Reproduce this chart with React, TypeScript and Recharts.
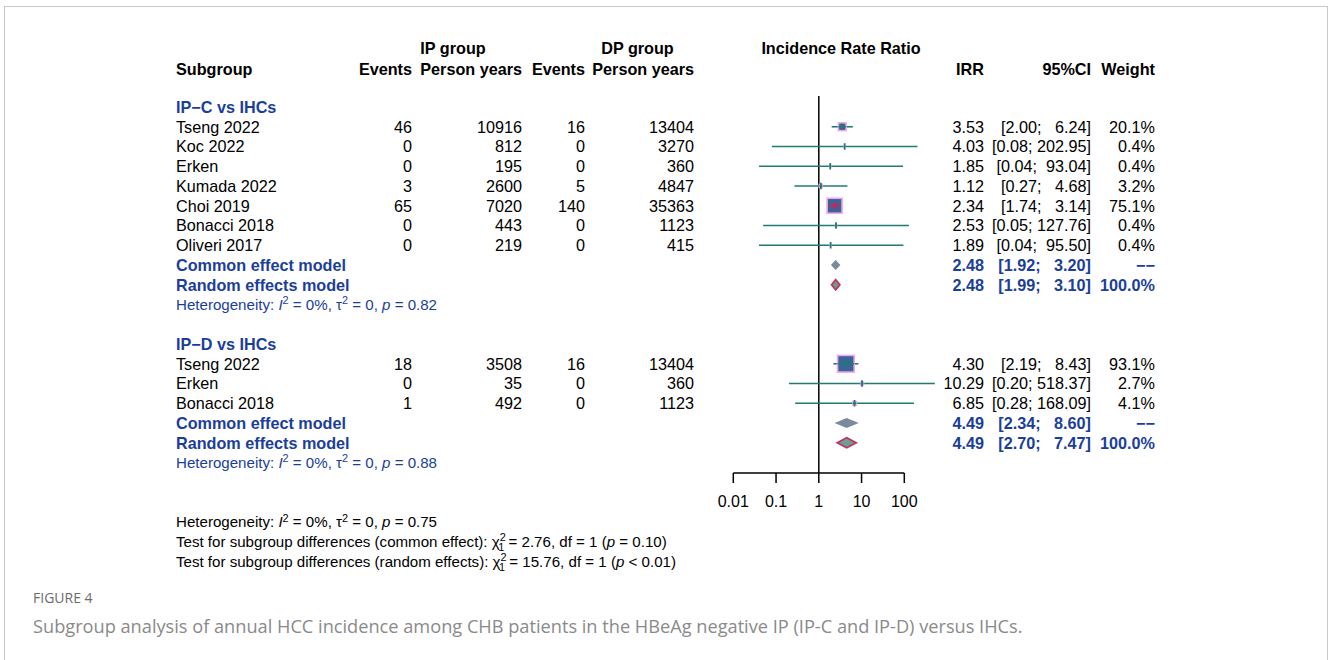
import React from 'react';
import {
  ScatterChart,
  Scatter,
  XAxis,
  YAxis,
  ReferenceLine,
  ReferenceArea
} from 'recharts';

interface Study {
  name: string;
  ipEvents: number;
  ipYears: number;
  dpEvents: number;
  dpYears: number;
  irr: number;
  lower: number;
  upper: number;
  weight: number;
}

interface Pooled {
  name: string;
  irr: number;
  lower: number;
  upper: number;
  weight: number | null;
  random: boolean;
}

// ---- data ----
const subgroupTitles = ['IP\u2212C vs IHCs', 'IP\u2212D vs IHCs'];

const ipcStudies: Study[] = [
  { name: 'Tseng 2022', ipEvents: 46, ipYears: 10916, dpEvents: 16, dpYears: 13404, irr: 3.53, lower: 2.0, upper: 6.24, weight: 20.1 },
  { name: 'Koc 2022', ipEvents: 0, ipYears: 812, dpEvents: 0, dpYears: 3270, irr: 4.03, lower: 0.08, upper: 202.95, weight: 0.4 },
  { name: 'Erken', ipEvents: 0, ipYears: 195, dpEvents: 0, dpYears: 360, irr: 1.85, lower: 0.04, upper: 93.04, weight: 0.4 },
  { name: 'Kumada 2022', ipEvents: 3, ipYears: 2600, dpEvents: 5, dpYears: 4847, irr: 1.12, lower: 0.27, upper: 4.68, weight: 3.2 },
  { name: 'Choi 2019', ipEvents: 65, ipYears: 7020, dpEvents: 140, dpYears: 35363, irr: 2.34, lower: 1.74, upper: 3.14, weight: 75.1 },
  { name: 'Bonacci 2018', ipEvents: 0, ipYears: 443, dpEvents: 0, dpYears: 1123, irr: 2.53, lower: 0.05, upper: 127.76, weight: 0.4 },
  { name: 'Oliveri 2017', ipEvents: 0, ipYears: 219, dpEvents: 0, dpYears: 415, irr: 1.89, lower: 0.04, upper: 95.5, weight: 0.4 }
];

const ipcPooled: Pooled[] = [
  { name: 'Common effect model', irr: 2.48, lower: 1.92, upper: 3.2, weight: null, random: false },
  { name: 'Random effects model', irr: 2.48, lower: 1.99, upper: 3.1, weight: 100.0, random: true }
];

const ipdStudies: Study[] = [
  { name: 'Tseng 2022', ipEvents: 18, ipYears: 3508, dpEvents: 16, dpYears: 13404, irr: 4.3, lower: 2.19, upper: 8.43, weight: 93.1 },
  { name: 'Erken', ipEvents: 0, ipYears: 35, dpEvents: 0, dpYears: 360, irr: 10.29, lower: 0.2, upper: 518.37, weight: 2.7 },
  { name: 'Bonacci 2018', ipEvents: 1, ipYears: 492, dpEvents: 0, dpYears: 1123, irr: 6.85, lower: 0.28, upper: 168.09, weight: 4.1 }
];

const ipdPooled: Pooled[] = [
  { name: 'Common effect model', irr: 4.49, lower: 2.34, upper: 8.6, weight: null, random: false },
  { name: 'Random effects model', irr: 4.49, lower: 2.7, upper: 7.47, weight: 100.0, random: true }
];

const heterogeneityP = ['0.82', '0.88'];
const overallHeterogeneityP = '0.75';
const subgroupTests = [
  { label: 'common effect', chi2: '2.76', df: 1, p: '= 0.10' },
  { label: 'random effects', chi2: '15.76', df: 1, p: '< 0.01' }
];

const axisTicks = [0.01, 0.1, 1, 10, 100];

// ---- layout ----
const W = 1328;
const H = 660;
const CHART_H = 530;
const ROW_Y0 = 107;
const ROW_H = 19.75;
const PLOT_LEFT = 733.3;
const PLOT_RIGHT = 904.3;
const PLOT_TOP = 96;
const PLOT_BOTTOM = 473;
const XAXIS_H = 40;
const PX_PER_DECADE = (PLOT_RIGHT - PLOT_LEFT) / 4;
const BOX_SCALE = 1.73;

const FONT = "'Liberation Sans', Arial, Helvetica, sans-serif";
const FS = 16.2;
const FS_SMALL = 15.1;
const BLUE = '#1b3e9b';
const TEAL = '#217a74';
const BOX_FILL = '#3a6596';
const BOX_EDGE = '#f3a6f3';
const INSIDE_RED = '#e8174a';

const rowY = (r: number) => ROW_Y0 + r * ROW_H;

// row layout: group title, studies, two pooled rows, heterogeneity, blank
const groupStart = [0, 12];
const groups = [
  { title: subgroupTitles[0], studies: ipcStudies, pooled: ipcPooled, p: heterogeneityP[0] },
  { title: subgroupTitles[1], studies: ipdStudies, pooled: ipdPooled, p: heterogeneityP[1] }
];

const studyPoints = groups.flatMap((g, gi) =>
  g.studies.map((s, i) => {
    const leftPx = Math.log10(s.irr / s.lower) * PX_PER_DECADE;
    const rightPx = Math.log10(s.upper / s.irr) * PX_PER_DECADE;
    const side = BOX_SCALE * Math.sqrt(s.weight);
    return {
      ...s,
      x: s.irr,
      y: groupStart[gi] + 1 + i,
      side,
      leftPx,
      rightPx,
      inside: leftPx + rightPx < side
    };
  })
);

const pooledRows = groups.flatMap((g, gi) =>
  g.pooled.map((p, i) => ({ ...p, row: groupStart[gi] + 1 + g.studies.length + i }))
);

const fmt2 = (v: number) => v.toFixed(2);
// meta-style CI text: "[lo; " + upper padded to 6 chars + "]"
const ciText = (lo: number, hi: number) => `[${fmt2(lo)}; ${fmt2(hi).padStart(6, ' ')}]`;

const StudyBox = (props: any) => {
  const { cx, cy, payload } = props;
  const s = payload.side;
  const col = payload.inside ? INSIDE_RED : TEAL;
  // part of the CI line that lies over the square
  const l = Math.min(s / 2, payload.leftPx);
  const r = Math.min(s / 2, payload.rightPx);
  return (
    <g>
      <rect
        x={cx - s / 2}
        y={cy - s / 2}
        width={s}
        height={s}
        fill={BOX_FILL}
        stroke={BOX_EDGE}
        strokeWidth={1.6}
      />
      <line x1={cx - l} x2={cx + r} y1={cy} y2={cy} stroke={col} strokeWidth={1.6} />
      <line x1={cx} x2={cx} y1={cy - 3.3} y2={cy + 3.3} stroke={col} strokeWidth={1.8} />
    </g>
  );
};

const Diamond = (random: boolean) => (props: any) => {
  const { x, y, width, height } = props;
  const cx = x + width / 2;
  const cy = y + height / 2;
  const h = 5;
  const pts = `${x},${cy} ${cx},${cy - h} ${x + width},${cy} ${cx},${cy + h}`;
  return (
    <polygon
      points={pts}
      fill={random ? '#6a9f98' : '#7b8a9c'}
      stroke={random ? '#c0345f' : 'none'}
      strokeWidth={random ? 1.8 : 0}
    />
  );
};

const Sup = ({ children }: { children: React.ReactNode }) => (
  <tspan dy={-5.5} fontSize={FS_SMALL * 0.72}>{children}</tspan>
);

const Heterogeneity = ({ x, y, p, color }: { x: number; y: number; p: string; color: string }) => (
  <text x={x} y={y} fontSize={FS_SMALL} fill={color}>
    Heterogeneity: <tspan fontStyle="italic">I</tspan>
    <Sup>2</Sup>
    <tspan dy={5.5}> = 0%, {'\u03c4'}</tspan>
    <Sup>2</Sup>
    <tspan dy={5.5}> = 0, </tspan>
    <tspan fontStyle="italic">p</tspan> = {p}
  </text>
);

const pre = { whiteSpace: 'pre' as const };

const TextLayer = () => {
  const base = (r: number) => rowY(r) + 0.36 * FS;
  const baseS = (r: number) => rowY(r) + 0.36 * FS_SMALL;
  const h1 = 48 + 0.36 * FS;
  const h2 = 69 + 0.36 * FS;
  return (
    <svg
      width={W}
      height={H}
      style={{ position: 'absolute', left: 0, top: 0, pointerEvents: 'none' }}
      fontFamily={FONT}
    >
      <g fontWeight="bold" fontSize={FS} fill="#000">
        <text x={453} y={h1} textAnchor="middle">IP group</text>
        <text x={637.5} y={h1} textAnchor="middle">DP group</text>
        <text x={841} y={h1} textAnchor="middle">Incidence Rate Ratio</text>
        <text x={176} y={h2}>Subgroup</text>
        <text x={412} y={h2} textAnchor="end">Events</text>
        <text x={522} y={h2} textAnchor="end">Person years</text>
        <text x={585} y={h2} textAnchor="end">Events</text>
        <text x={694} y={h2} textAnchor="end">Person years</text>
        <text x={984} y={h2} textAnchor="end">IRR</text>
        <text x={1091} y={h2} textAnchor="end">95%CI</text>
        <text x={1155} y={h2} textAnchor="end">Weight</text>
      </g>

      {groups.map((g, gi) => (
        <text key={'t' + gi} x={176} y={base(groupStart[gi])} fontSize={FS} fontWeight="bold" fill={BLUE}>
          {g.title}
        </text>
      ))}

      {studyPoints.map((s) => (
        <g key={s.name + s.y} fontSize={FS} fill="#000">
          <text x={176} y={base(s.y)}>{s.name}</text>
          <text x={412} y={base(s.y)} textAnchor="end">{s.ipEvents}</text>
          <text x={522} y={base(s.y)} textAnchor="end">{s.ipYears}</text>
          <text x={585} y={base(s.y)} textAnchor="end">{s.dpEvents}</text>
          <text x={694} y={base(s.y)} textAnchor="end">{s.dpYears}</text>
          <text x={984} y={base(s.y)} textAnchor="end">{fmt2(s.irr)}</text>
          <text x={1091} y={base(s.y)} textAnchor="end" xmlSpace="preserve" style={pre}>
            {ciText(s.lower, s.upper)}
          </text>
          <text x={1155} y={base(s.y)} textAnchor="end">{s.weight.toFixed(1)}%</text>
        </g>
      ))}

      {pooledRows.map((p) => (
        <g key={'p' + p.row} fontSize={FS} fontWeight="bold" fill={BLUE}>
          <text x={176} y={base(p.row)}>{p.name}</text>
          <text x={984} y={base(p.row)} textAnchor="end">{fmt2(p.irr)}</text>
          <text x={1091} y={base(p.row)} textAnchor="end" xmlSpace="preserve" style={pre}>
            {ciText(p.lower, p.upper)}
          </text>
          <text x={1155} y={base(p.row)} textAnchor="end">
            {p.weight === null ? '\u2212\u2212' : p.weight.toFixed(1) + '%'}
          </text>
        </g>
      ))}

      {groups.map((g, gi) => (
        <Heterogeneity
          key={'h' + gi}
          x={176}
          y={baseS(groupStart[gi] + g.studies.length + 3)}
          p={g.p}
          color={BLUE}
        />
      ))}

      <Heterogeneity x={176} y={baseS(21)} p={overallHeterogeneityP} color="#000" />
      {subgroupTests.map((t, i) => (
        <text key={t.label} x={176} y={baseS(22 + i)} fontSize={FS_SMALL} fill="#000">
          Test for subgroup differences ({t.label}): {'\u03c7'}
          <tspan dy={-5.5} fontSize={FS_SMALL * 0.72}>2</tspan>
          <tspan dx={-7.5} dy={10} fontSize={FS_SMALL * 0.72}>{t.df}</tspan>
          <tspan dy={-4.5}> = {t.chi2}, df = {t.df} (</tspan>
          <tspan fontStyle="italic">p</tspan> {t.p})
        </text>
      ))}

      <text x={33} y={603} fontFamily="'Open Sans', sans-serif" fontSize={14} fill="#6c6c6c">
        FIGURE 4
      </text>
      <text x={33} y={632.5} fontFamily="'Open Sans', sans-serif" fontSize={18.2} fill="#8a8a8a">
        Subgroup analysis of annual HCC incidence among CHB patients in the HBeAg negative IP (IP-C and IP-D) versus IHCs.
      </text>
    </svg>
  );
};

const App: React.FC = () => {
  const yDomain = [(PLOT_TOP - ROW_Y0) / ROW_H, (PLOT_BOTTOM - ROW_Y0) / ROW_H];
  return (
    <div
      style={{
        position: 'absolute',
        left: 0,
        top: 0,
        width: W,
        height: H,
        background: '#fff',
        overflow: 'hidden',
        fontFamily: FONT
      }}
    >
      <div
        style={{
          position: 'absolute',
          left: 4,
          top: 6,
          width: W - 6,
          height: H,
          borderLeft: '1px solid #c9c9c9',
          borderTop: '1px solid #c9c9c9',
          borderRight: '1px solid #c9c9c9'
        }}
      />
      <div style={{ position: 'absolute', left: 0, top: 0 }}>
        <ScatterChart
          width={W}
          height={CHART_H}
          margin={{
            top: PLOT_TOP,
            left: PLOT_LEFT,
            right: W - PLOT_RIGHT,
            bottom: CHART_H - PLOT_BOTTOM - XAXIS_H
          }}
        >
          <XAxis
            type="number"
            dataKey="x"
            scale="log"
            domain={[0.01, 100]}
            ticks={axisTicks}
            allowDataOverflow
            height={XAXIS_H}
            tickSize={10}
            tickMargin={13}
            axisLine={{ stroke: '#000', strokeWidth: 1.5 }}
            tickLine={{ stroke: '#000', strokeWidth: 1.5 }}
            tick={{ fontSize: 16, fill: '#000', fontFamily: FONT }}
            interval={0}
          />
          <YAxis type="number" dataKey="y" domain={yDomain} reversed hide allowDataOverflow />
          <ReferenceLine x={1} stroke="#000" strokeWidth={1.5} />

          {pooledRows.map((p) => (
            <ReferenceArea
              key={'d' + p.row}
              x1={p.lower}
              x2={p.upper}
              y1={p.row - 0.25}
              y2={p.row + 0.25}
              ifOverflow="visible"
              shape={Diamond(p.random)}
            />
          ))}

          {studyPoints.map((s) => (
            <ReferenceLine
              key={'ci' + s.y}
              segment={[
                { x: s.lower, y: s.y },
                { x: s.upper, y: s.y }
              ]}
              stroke={s.inside ? INSIDE_RED : TEAL}
              strokeWidth={1.6}
              ifOverflow="visible"
            />
          ))}

          <Scatter data={studyPoints} shape={StudyBox} isAnimationActive={false} />
        </ScatterChart>
      </div>
      <TextLayer />
    </div>
  );
};

export default App;
